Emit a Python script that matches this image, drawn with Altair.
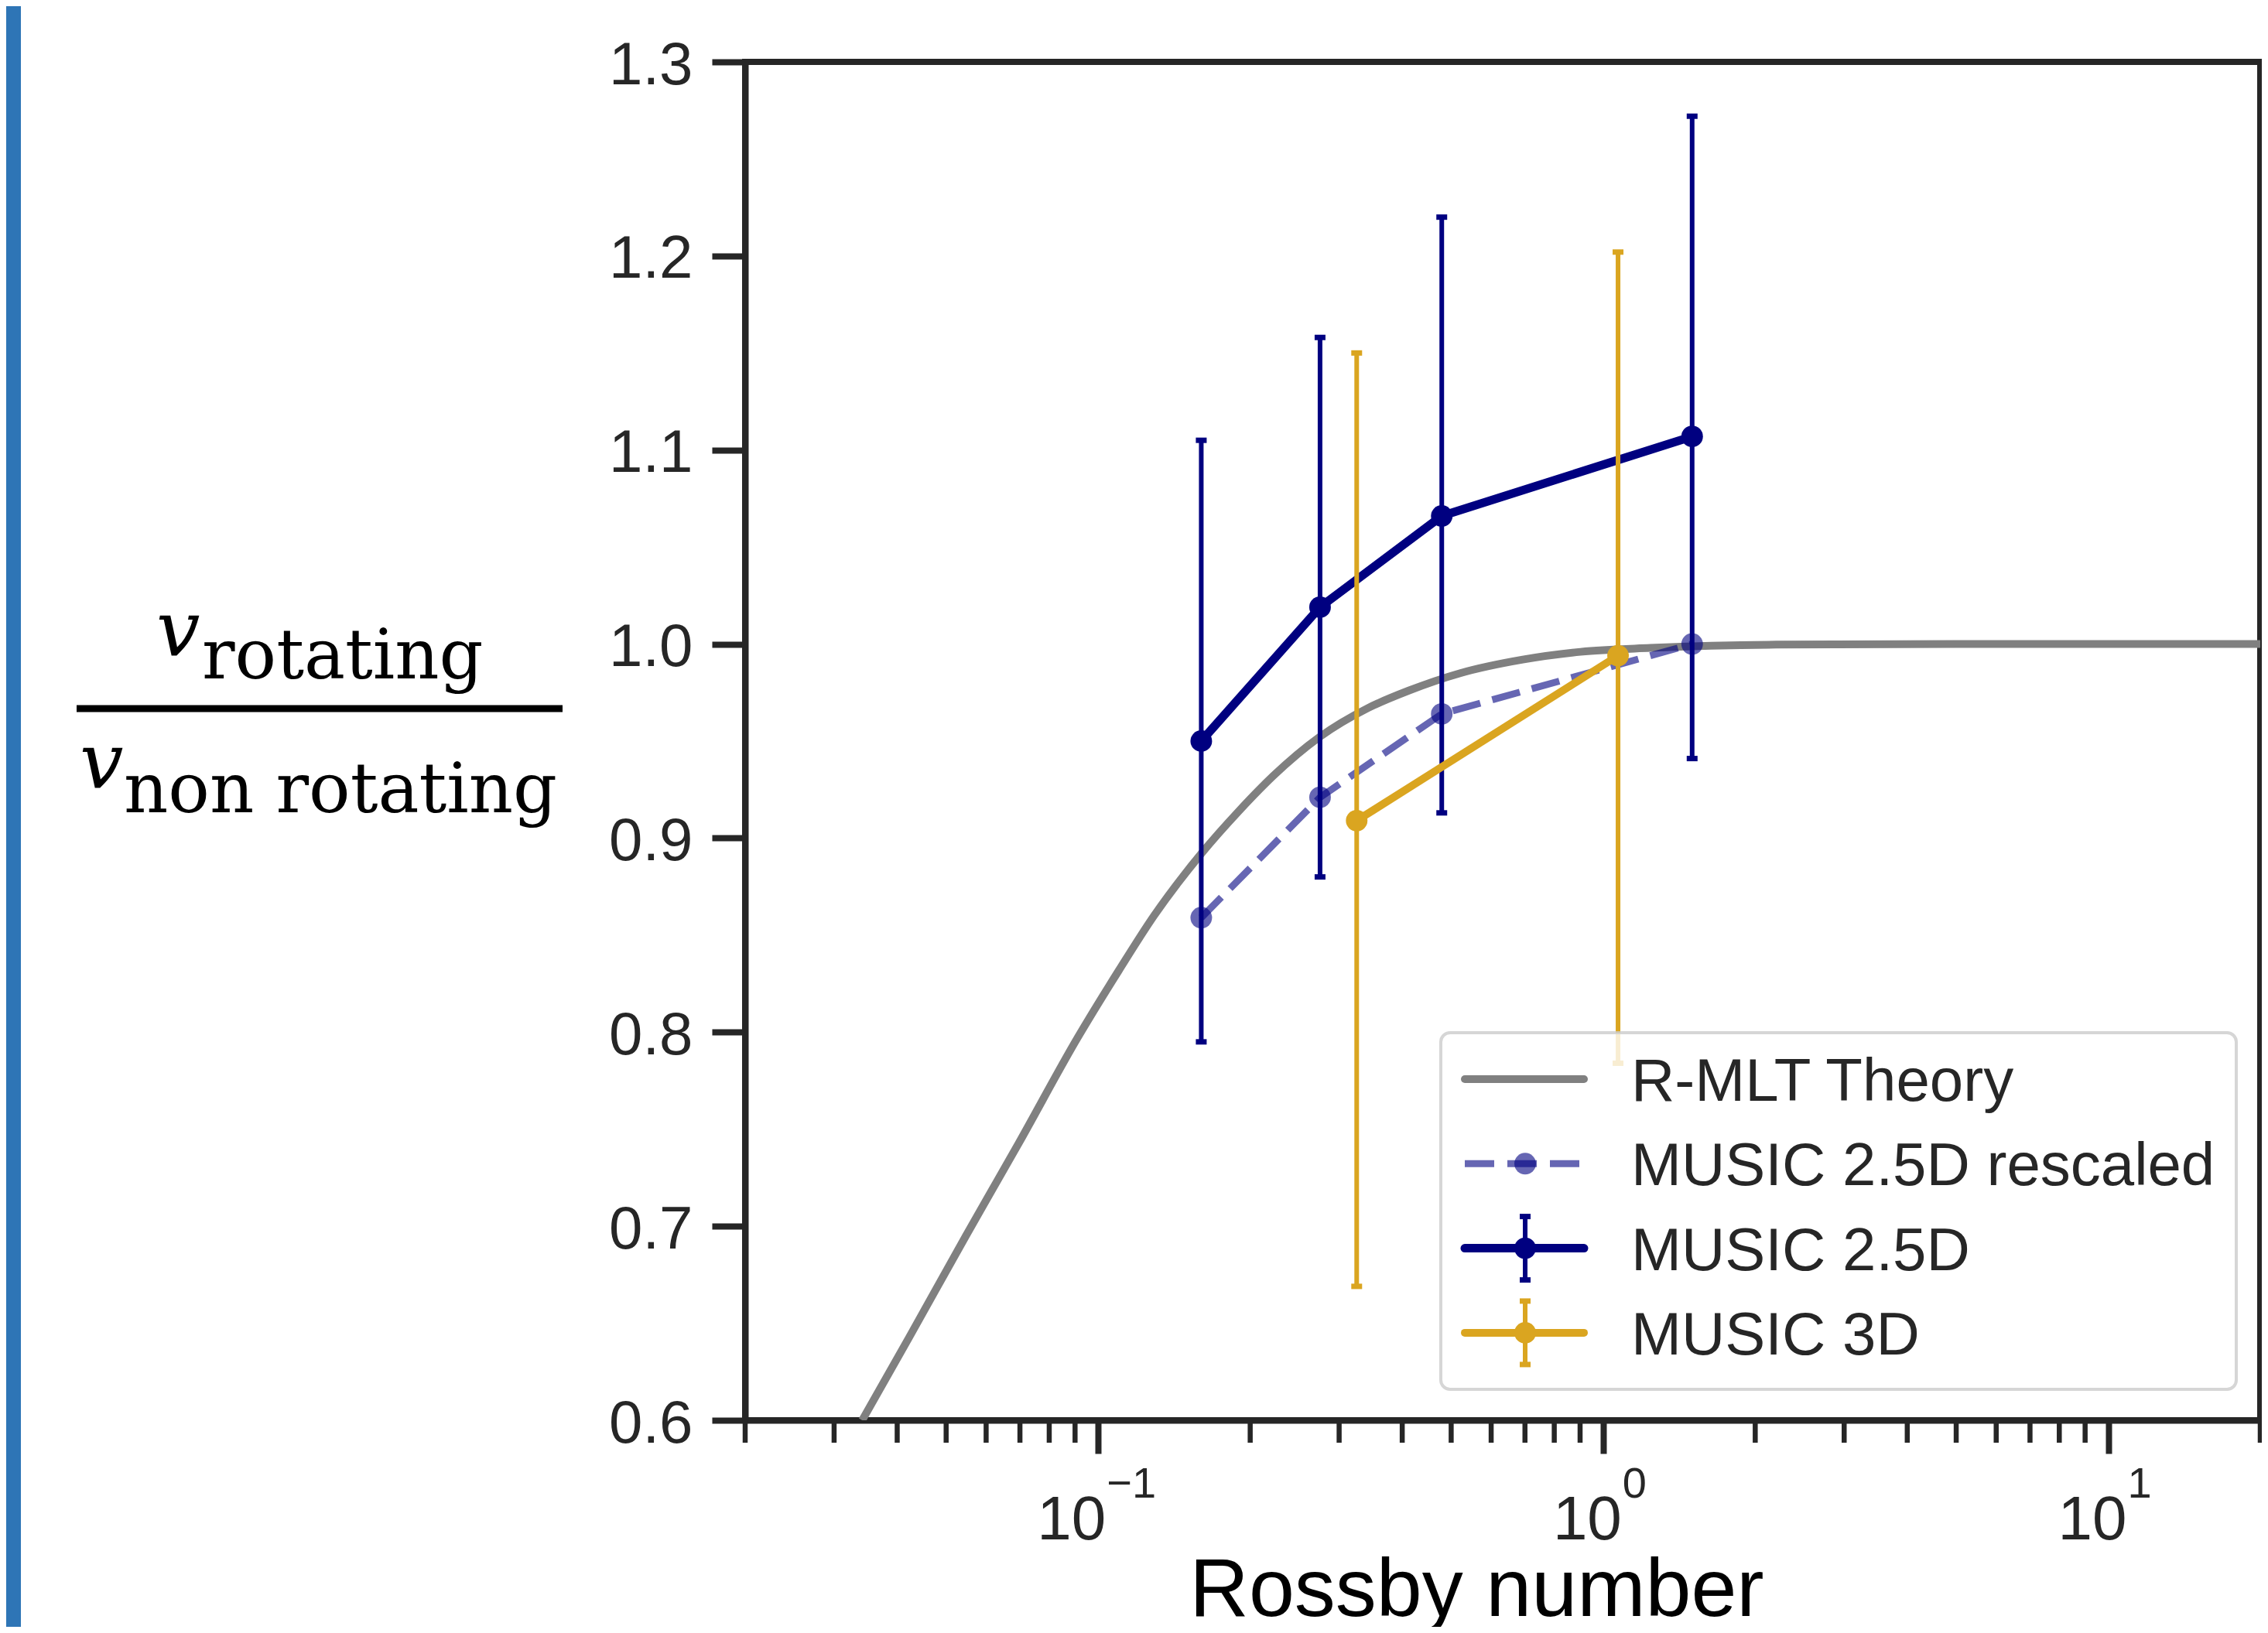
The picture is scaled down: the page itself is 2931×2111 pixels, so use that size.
import altair as alt
import pandas as pd

# ---------------- data ----------------
theory_ro = [0.0341, 0.0423, 0.0547, 0.0697, 0.091, 0.110, 0.129, 0.160, 0.190,
             0.222, 0.274, 0.342, 0.412, 0.521, 0.693, 0.902, 1.24, 2.2, 5.0, 20.0]
theory_v = [0.600, 0.643, 0.695, 0.743, 0.797, 0.832, 0.860, 0.892, 0.914,
            0.932, 0.952, 0.967, 0.976, 0.985, 0.992, 0.996, 0.998, 0.9997, 1.0, 1.0]

music25_ro = [0.160, 0.275, 0.479, 1.50]
music25_v = [0.950, 1.019, 1.066, 1.107]
music25_lo = [0.795, 0.880, 0.913, 0.941]
music25_hi = [1.105, 1.158, 1.220, 1.272]
music25_rescaled_v = [0.859, 0.921, 0.964, 1.000]

music3d_ro = [0.325, 1.07]
music3d_v = [0.909, 0.994]
music3d_lo = [0.669, 0.784]
music3d_hi = [1.150, 1.202]

major_ticks = [0.1, 1, 10]
major_exponents = ["\u22121", "0", "1"]
minor_ticks = [0.02, 0.03, 0.04, 0.05, 0.06, 0.07, 0.08, 0.09,
               0.2, 0.3, 0.4, 0.5, 0.6, 0.7, 0.8, 0.9,
               2, 3, 4, 5, 6, 7, 8, 9, 20]
y_ticks = [0.6, 0.7, 0.8, 0.9, 1.0, 1.1, 1.2, 1.3]

legend_labels = ["R-MLT Theory", "MUSIC 2.5D rescaled", "MUSIC 2.5D", "MUSIC 3D"]
x_title = "Rossby number"
frac_num = "rotating"
frac_den = "non rotating"
frac_var = "v"

# ---------------- styling ----------------
W, H = 1958, 1756
NAVY = "#000080"
GOLD = "#DAA520"
GRAY = "#808080"
INK = "#262626"
SANS = "Liberation Sans"
SERIF = "DejaVu Serif"
MSIZE = 780

xscale = alt.Scale(type="log", domain=[0.02, 20], nice=False)
yscale = alt.Scale(domain=[0.6, 1.3], nice=False, zero=False)

x_axis = alt.Axis(values=major_ticks, labels=False, tickSize=43, title=x_title,
                  titleFont=SANS, titleFontSize=106, titleFontWeight="normal",
                  titleColor="black", titleX=945, titleY=252,
                  titleBaseline="alphabetic", titleAlign="center")
y_axis = alt.Axis(values=y_ticks, format=".1f", tickSize=43, labelPadding=25,
                  labelFontSize=78, labelBaseline="alphabetic", labelOffset=28,
                  title=None)


def X(field):
    return alt.X(field, type="quantitative", scale=xscale, axis=x_axis)


def Y(field):
    return alt.Y(field, type="quantitative", scale=yscale, axis=y_axis)


theory_df = pd.DataFrame({"ro": theory_ro, "v": theory_v})
m25_df = pd.DataFrame({"ro": music25_ro, "v": music25_v, "lo": music25_lo,
                       "hi": music25_hi, "vr": music25_rescaled_v})
m3_df = pd.DataFrame({"ro": music3d_ro, "v": music3d_v, "lo": music3d_lo,
                      "hi": music3d_hi})
major_df = pd.DataFrame({"tick": major_ticks, "exp": major_exponents})
minor_df = pd.DataFrame({"tick": minor_ticks})
one = pd.DataFrame({"k": [0]})

layers = []

# left decorative blue bar
layers.append(alt.Chart(one).mark_rect(color="#2E75B6").encode(
    x=alt.value(-963), x2=alt.value(-936), y=alt.value(-80), y2=alt.value(2031)))


def vtext(text, x, y, size, font, style="normal", color="black", align="left"):
    return alt.Chart(pd.DataFrame({"t": [text]})).mark_text(
        align=align, baseline="alphabetic", font=font, fontSize=size,
        fontStyle=style, color=color).encode(
        x=alt.value(x), y=alt.value(y), text="t:N")


# y-axis title as a fraction
layers.append(vtext(frac_var, -761, 767, 100, SERIF, style="italic"))
layers.append(vtext(frac_num, -702, 797, 89, SERIF))
layers.append(alt.Chart(one).mark_rule(color="black", strokeWidth=9).encode(
    x=alt.value(-864), x2=alt.value(-236), y=alt.value(836)))
layers.append(vtext(frac_var, -860, 938, 100, SERIF, style="italic"))
layers.append(vtext(frac_den, -803, 970, 89, SERIF))

# R-MLT theory
layers.append(alt.Chart(theory_df).mark_line(
    color=GRAY, strokeWidth=10, interpolate="monotone", clip=True).encode(
    x=X("ro"), y=Y("v")))

# MUSIC 2.5D rescaled
layers.append(alt.Chart(m25_df).mark_line(
    color=NAVY, strokeWidth=9, opacity=0.6, strokeDash=[37, 16]).encode(
    x=X("ro"), y=Y("vr")))
layers.append(alt.Chart(m25_df).mark_circle(
    color=NAVY, size=MSIZE, opacity=0.6).encode(x=X("ro"), y=Y("vr")))


def errorbars(df, color, line_w):
    out = []
    out.append(alt.Chart(df).mark_rule(color=color, strokeWidth=6).encode(
        x=X("ro"), y=Y("lo"), y2=alt.Y2("hi")))
    for f in ["lo", "hi"]:
        out.append(alt.Chart(df).mark_tick(
            color=color, orient="horizontal", size=14, thickness=7, opacity=1).encode(
            x=X("ro"), y=Y(f)))
    out.append(alt.Chart(df).mark_line(color=color, strokeWidth=line_w).encode(
        x=X("ro"), y=Y("v")))
    out.append(alt.Chart(df).mark_circle(color=color, size=MSIZE, opacity=1).encode(
        x=X("ro"), y=Y("v")))
    return out


layers += errorbars(m25_df, NAVY, 11)
layers += errorbars(m3_df, GOLD, 10)

# minor ticks on the log axis
layers.append(alt.Chart(minor_df).mark_rule(color=INK, strokeWidth=6.5).encode(
    x=X("tick"), y=alt.value(H), y2=alt.value(H + 29)))

# x tick labels 10^n
for cond, d10, dexp in [(alt.datum.tick < 0.5, 10, 11), (alt.datum.tick > 0.5, 24, 25)]:
    layers.append(alt.Chart(major_df).transform_filter(cond).mark_text(
        align="right", baseline="alphabetic", font=SANS, fontSize=80,
        color=INK, dx=d10).encode(x=X("tick"), y=alt.value(H + 154),
                                  text=alt.value("10")))
    layers.append(alt.Chart(major_df).transform_filter(cond).mark_text(
        align="left", baseline="alphabetic", font=SANS, fontSize=56,
        color=INK, dx=dexp).encode(x=X("tick"), y=alt.value(H + 100), text="exp:N"))

# legend
LX0, LX1, LY0, LY1 = 899, 1927, 1255, 1716
layers.append(alt.Chart(one).mark_rect(
    cornerRadius=12, fill="white", fillOpacity=0.8, stroke="#cccccc",
    strokeOpacity=0.8, strokeWidth=4).encode(
    x=alt.value(LX0), x2=alt.value(LX1), y=alt.value(LY0), y2=alt.value(LY1)))

HX0, HX1, HC = 930, 1084, 1008
row0, gap = 1315, 109.3
for i, lab in enumerate(legend_labels):
    ry = row0 + i * gap
    if i == 0:
        layers.append(alt.Chart(one).mark_rule(
            color=GRAY, strokeWidth=10, strokeCap="round").encode(
            x=alt.value(HX0), x2=alt.value(HX1), y=alt.value(ry)))
    elif i == 1:
        layers.append(alt.Chart(one).mark_rule(
            color=NAVY, strokeWidth=9, opacity=0.6, strokeDash=[38, 17]).encode(
            x=alt.value(HX0), x2=alt.value(HX1 + 2), y=alt.value(ry)))
        layers.append(alt.Chart(one).mark_circle(
            color=NAVY, size=MSIZE, opacity=0.6).encode(x=alt.value(HC), y=alt.value(ry)))
    else:
        col = NAVY if i == 2 else GOLD
        lw = 11 if i == 2 else 10
        layers.append(alt.Chart(one).mark_rule(
            color=col, strokeWidth=6).encode(
            x=alt.value(HC), y=alt.value(ry - 41), y2=alt.value(ry + 41)))
        for dy in (-41, 41):
            layers.append(alt.Chart(one).mark_rule(
                color=col, strokeWidth=7).encode(
                x=alt.value(HC - 7), x2=alt.value(HC + 7), y=alt.value(ry + dy)))
        layers.append(alt.Chart(one).mark_rule(
            color=col, strokeWidth=lw, strokeCap="round").encode(
            x=alt.value(HX0), x2=alt.value(HX1), y=alt.value(ry)))
        layers.append(alt.Chart(one).mark_circle(
            color=col, size=MSIZE, opacity=1).encode(x=alt.value(HC), y=alt.value(ry)))
    layers.append(vtext(lab, 1145, ry + 28, 78, SANS, color=INK))

chart = alt.layer(*layers).properties(
    width=W, height=H,
    autosize=alt.AutoSizeParams(type="none"),
    padding={"left": 955, "top": 72, "right": 2, "bottom": 267},
    background="white",
).configure_axis(
    domainColor=INK, domainWidth=8, tickColor=INK, tickWidth=8,
    labelColor=INK, labelFont=SANS, grid=False,
).configure_view(stroke=INK, strokeWidth=8)

chart.save("out.html", embed_options={"renderer": "svg", "actions": False})
